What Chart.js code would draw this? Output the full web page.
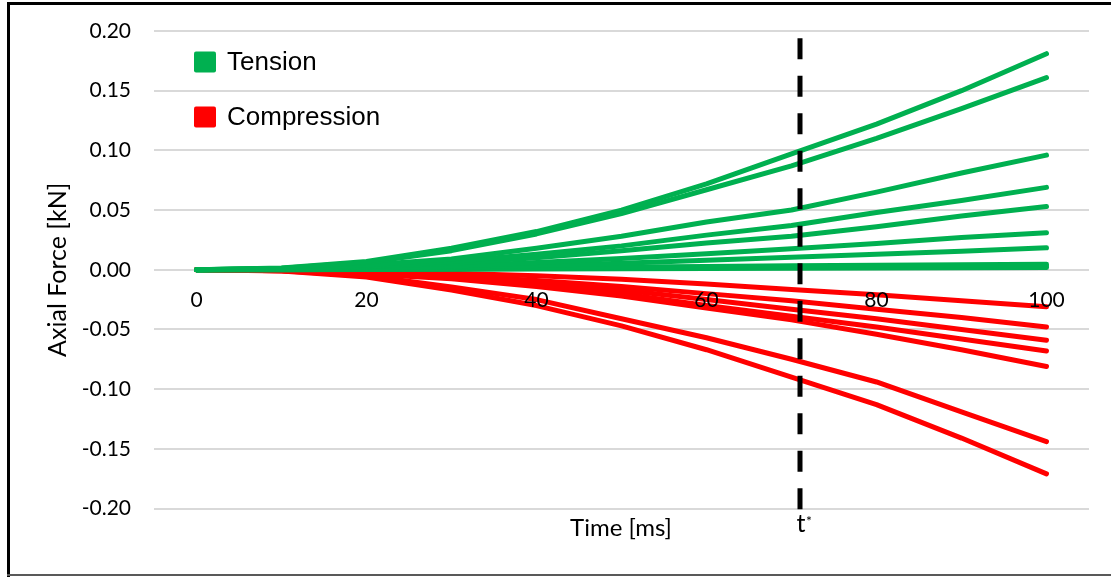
<!DOCTYPE html>
<html>
<head>
<meta charset="utf-8">
<script src="https://cdn.jsdelivr.net/npm/chart.js@4/dist/chart.umd.min.js"></script>
<style>
  html, body { margin: 0; padding: 0; background: #fff; }
  #wrap { width: 1111px; height: 577px; position: relative; }
</style>
</head>
<body>
<div id="wrap"><canvas id="c" width="1111" height="577"></canvas></div>
<script>
// Sample times [ms]
const times = [0, 10, 20, 30, 40, 50, 60, 70, 80, 90, 100];

// Axial force [kN] of members in tension
const tension1 = [0, 0.0015, 0.007, 0.018, 0.032, 0.050, 0.072, 0.097, 0.122, 0.150, 0.181];
const tension2 = [0, 0.0013, 0.006, 0.016, 0.030, 0.047, 0.067, 0.087, 0.110, 0.135, 0.161];
const tension3 = [0, 0.001, 0.004, 0.009, 0.018, 0.028, 0.040, 0.050, 0.065, 0.081, 0.096];
const tension4 = [0, 0.0008, 0.003, 0.007, 0.013, 0.020, 0.029, 0.037, 0.048, 0.058, 0.069];
const tension5 = [0, 0.0006, 0.0025, 0.0055, 0.010, 0.016, 0.0225, 0.028, 0.036, 0.045, 0.053];
const tension6 = [0, 0.0004, 0.0015, 0.003, 0.006, 0.0095, 0.0135, 0.0175, 0.022, 0.027, 0.031];
const tension7 = [0, 0.0003, 0.001, 0.002, 0.0035, 0.0055, 0.008, 0.0105, 0.013, 0.0155, 0.0184];
const tension8 = [0, 0.0002, 0.0006, 0.001, 0.0016, 0.0022, 0.0028, 0.0033, 0.0038, 0.0042, 0.0046];
const tension9 = [0, 0.0001, 0.0004, 0.0007, 0.0011, 0.0015, 0.0019, 0.0023, 0.0026, 0.0029, 0.0032];
const tension10 = [0, 0.0001, 0.0002, 0.0004, 0.0006, 0.0008, 0.0010, 0.0012, 0.0014, 0.0016, 0.0018];

// Axial force [kN] of members in compression
const compression1 = [0, -0.0003, -0.0015, -0.003, -0.005, -0.008, -0.012, -0.0165, -0.021, -0.026, -0.031];
const compression2 = [0, -0.0005, -0.002, -0.005, -0.009, -0.014, -0.020, -0.026, -0.033, -0.040, -0.048];
const compression3 = [0, -0.0006, -0.0025, -0.006, -0.011, -0.017, -0.025, -0.033, -0.041, -0.050, -0.059];
const compression4 = [0, -0.0007, -0.003, -0.007, -0.013, -0.020, -0.030, -0.039, -0.048, -0.058, -0.068];
const compression5 = [0, -0.0008, -0.0035, -0.0075, -0.014, -0.022, -0.032, -0.042, -0.054, -0.067, -0.081];
const compression6 = [0, -0.0008, -0.005, -0.0145, -0.025, -0.041, -0.057, -0.075, -0.094, -0.119, -0.144];
const compression7 = [0, -0.001, -0.006, -0.017, -0.030, -0.047, -0.067, -0.090, -0.113, -0.141, -0.171];

// Axis ticks and the marked instant t*
const xTicks = [0, 20, 40, 60, 80, 100];
const yTicks = [-0.20, -0.15, -0.10, -0.05, 0.00, 0.05, 0.10, 0.15, 0.20];
const tStar = 71;
const tStarTop = 0.194;

const legendItems = ['Tension', 'Compression'];

const GREEN = '#00B050';
const RED = '#FF0000';
const FONT = 'Lato';

const tensionSeries = [tension1, tension2, tension3, tension4, tension5, tension6, tension7, tension8, tension9, tension10];
const compressionSeries = [compression1, compression2, compression3, compression4, compression5, compression6, compression7];

function toPoints(values) {
  return values.map((v, i) => ({ x: times[i], y: v }));
}
function lineSet(values, color, label) {
  return {
    label: label,
    data: toPoints(values),
    borderColor: color,
    backgroundColor: color,
    borderWidth: 5,
    borderCapStyle: 'round',
    borderJoinStyle: 'round',
    pointRadius: 0,
    pointHoverRadius: 0,
    fill: false,
    tension: 0
  };
}

// Tension lines come first so they are painted over the compression lines
const datasets = [
  ...tensionSeries.map(s => lineSet(s, GREEN, legendItems[0])),
  ...compressionSeries.map(s => lineSet(s, RED, legendItems[1]))
];

const overlay = {
  id: 'overlay',
  afterDraw(chart) {
    const ctx = chart.ctx;
    const xs = chart.scales.x;
    const ys = chart.scales.y;
    const area = chart.chartArea;
    ctx.save();

    // dashed marker at t*
    const xp = Math.round(xs.getPixelForValue(tStar));
    ctx.strokeStyle = '#000';
    ctx.lineWidth = 5;
    ctx.setLineDash([21, 16.5]);
    ctx.beginPath();
    ctx.moveTo(xp, ys.getPixelForValue(tStarTop));
    ctx.lineTo(xp, area.bottom + 1);
    ctx.stroke();
    ctx.setLineDash([]);

    // t* label
    ctx.fillStyle = '#000';
    ctx.textBaseline = 'alphabetic';
    ctx.textAlign = 'center';
    ctx.font = '25px ' + FONT;
    ctx.fillText('t', xp + 1, 532);
    ctx.font = '14px ' + FONT;
    ctx.textAlign = 'left';
    ctx.fillText('*', xp + 6, 526);

    // x axis title
    ctx.font = '24px ' + FONT;
    ctx.textAlign = 'center';
    ctx.fillText('Time [ms]', 621, 536);

    // legend
    const colors = [GREEN, RED];
    const rows = [62, 117];
    ctx.font = '26px "Liberation Sans", Arial, sans-serif';
    ctx.textAlign = 'left';
    ctx.textBaseline = 'middle';
    legendItems.forEach((name, i) => {
      ctx.fillStyle = colors[i];
      ctx.beginPath();
      ctx.roundRect(194, rows[i] - 10.5, 22, 21, 2);
      ctx.fill();
      ctx.fillStyle = '#000';
      ctx.fillText(name, 227, rows[i] + 1);
    });

    // frame
    ctx.fillStyle = '#000';
    ctx.fillRect(7, 2, 1104, 3);
    ctx.fillRect(7, 2, 3, 575);
    ctx.fillStyle = '#595959';
    ctx.fillRect(7, 574, 1104, 2);
    ctx.restore();
  }
};

new Chart(document.getElementById('c'), {
  type: 'line',
  data: { datasets },
  options: {
    responsive: false,
    animation: false,
    events: [],
    layout: { padding: { left: 35, right: 22, top: 31, bottom: 68.5 } },
    plugins: {
      legend: { display: false },
      tooltip: { enabled: false }
    },
    scales: {
      x: {
        type: 'linear',
        position: { y: 0 },
        min: -5,
        max: 105,
        afterBuildTicks(scale) { scale.ticks = xTicks.map(v => ({ value: v })); },
        grid: { display: false, drawTicks: false },
        border: { display: false },
        ticks: {
          z: 1,
          padding: 18,
          color: '#000',
          font: { family: FONT, size: 21 },
          maxRotation: 0,
          callback: v => String(v)
        }
      },
      y: {
        type: 'linear',
        min: -0.2,
        max: 0.2,
        afterBuildTicks(scale) { scale.ticks = yTicks.map(v => ({ value: v })); },
        afterFit(scale) { scale.width = 119; },
        grid: { color: '#d9d9d9', lineWidth: 2, drawTicks: true, tickLength: 23, tickColor: 'rgba(0,0,0,0)' },
        border: { display: false },
        ticks: {
          padding: 0,
          color: '#000',
          font: { family: FONT, size: 21 },
          callback: v => Number(v).toFixed(2)
        },
        title: {
          display: true,
          text: 'Axial Force [kN]',
          color: '#000',
          font: { family: FONT, size: 25 },
          padding: { top: 8, bottom: 0 }
        }
      }
    }
  },
  plugins: [overlay]
});
</script>
</body>
</html>
